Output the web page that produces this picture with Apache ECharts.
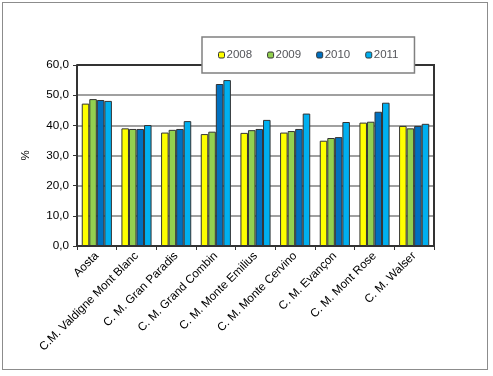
<!DOCTYPE html>
<html>
<head>
<meta charset="utf-8">
<script src="https://cdn.jsdelivr.net/npm/echarts@6/dist/echarts.min.js"></script>
<style>
  html, body { margin: 0; padding: 0; background: #fff; }
  #main { width: 493px; height: 376px; }
  #frame { position: absolute; left: 2px; top: 2px; width: 484px; height: 366px; border: 1px solid #8c8c8c; }
</style>
</head>
<body>
<div id="frame"></div>
<div id="main" style="position:absolute;left:0;top:0;"></div>
<script>
var categories = ['Aosta', 'C.M. Valdigne Mont Blanc', 'C. M. Gran Paradis', 'C. M. Grand Combin',
    'C. M. Monte Emilius', 'C. M. Monte Cervino', 'C. M. Evançon', 'C. M. Mont Rose', 'C. M. Walser'];
var years = ['2008', '2009', '2010', '2011'];
var v2008 = [47.2, 39.0, 37.6, 37.1, 37.5, 37.6, 34.9, 40.9, 39.8];
var v2009 = [48.7, 38.8, 38.5, 37.9, 38.4, 38.1, 35.8, 41.2, 39.0];
var v2010 = [48.4, 38.8, 38.8, 53.7, 38.8, 38.8, 36.1, 44.5, 39.8];
var v2011 = [48.1, 40.1, 41.4, 55.0, 41.8, 43.9, 41.1, 47.5, 40.5];
var colors = ['#FFFF00', '#92D050', '#0070C0', '#00B0F0'];

var myChart = echarts.init(document.getElementById('main'));

var values = [v2008, v2009, v2010, v2011];
var series = years.map(function (y, i) {
    return {
        name: y,
        type: 'bar',
        data: values[i],
        barGap: 0,
        barCategoryGap: '24%',
        itemStyle: { color: colors[i], borderColor: '#333', borderWidth: 1 }
    };
});

var option = {
    animation: false,
    textStyle: { fontFamily: 'Liberation Sans, Arial', color: '#000' },
    grid: { left: 77, right: 59, top: 65, bottom: 130 },
    legend: {
        data: years,
        top: 37,
        left: 202,
        width: 207,
        padding: [12, 16, 12, 16],
        borderColor: '#808080',
        borderWidth: 1.5,
        backgroundColor: '#fff',
        itemWidth: 6,
        itemHeight: 6,
        itemGap: 15,
        textStyle: { fontSize: 11.5, padding: [0, 0, 0, -3] },
        itemStyle: { borderColor: '#333', borderWidth: 1 }
    },
    xAxis: {
        type: 'category',
        data: categories,
        axisLine: { lineStyle: { color: '#333', width: 2 } },
        axisTick: { show: true, lineStyle: { color: '#333' }, length: 4 },
        axisLabel: { rotate: 45, fontSize: 11.7, color: '#000', margin: 8 }
    },
    yAxis: {
        type: 'value',
        min: 0,
        max: 60,
        interval: 10,
        name: '%',
        nameLocation: 'middle',
        nameGap: 45,
        nameRotate: 90,
        nameTextStyle: { fontSize: 11.5, color: '#000' },
        axisLine: { show: true, lineStyle: { color: '#333', width: 2 } },
        axisTick: { show: true, lineStyle: { color: '#333' }, length: 4 },
        axisLabel: {
            fontSize: 11.7, color: '#000', margin: 8,
            formatter: function (v) { return v.toFixed(1).replace('.', ','); }
        },
        splitLine: { lineStyle: { color: '#808080', width: 1.5 } }
    },
    series: series
};
myChart.setOption(option);

// plot area frame (top and right edges)
var gridRect = myChart.getModel().getComponent('grid').coordinateSystem.getRect();
myChart.setOption({
    graphic: [{
        type: 'polyline',
        shape: { points: [[gridRect.x, gridRect.y], [gridRect.x + gridRect.width, gridRect.y],
            [gridRect.x + gridRect.width, gridRect.y + gridRect.height]] },
        style: { stroke: '#333', lineWidth: 2, fill: null },
        z: 0
    }]
});
</script>
</body>
</html>
